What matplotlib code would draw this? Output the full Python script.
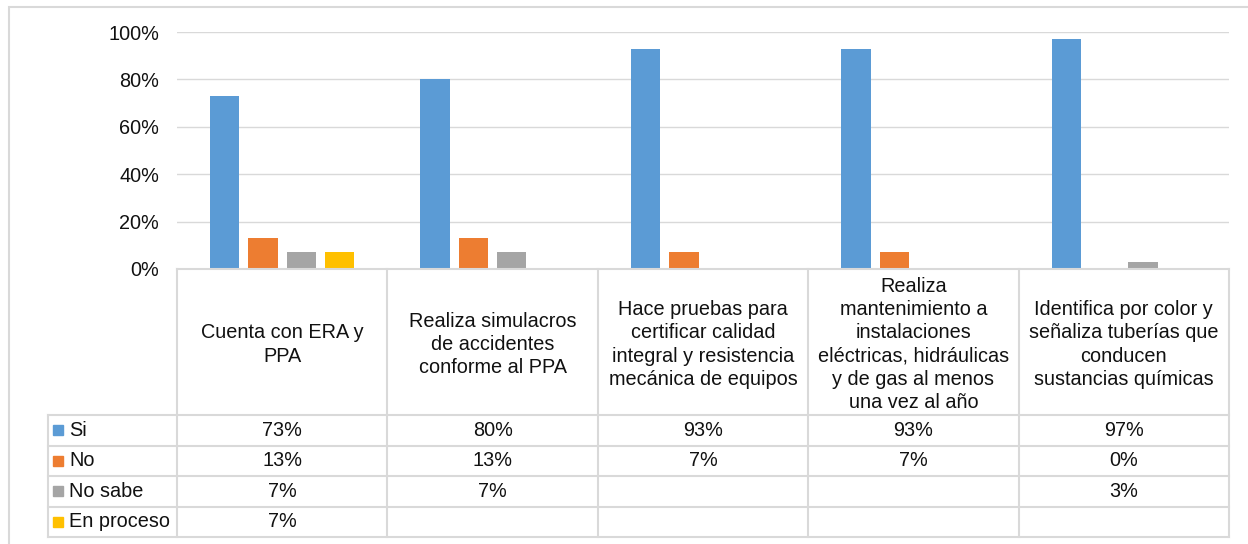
import numpy as np
import matplotlib
matplotlib.use("Agg")
import matplotlib.pyplot as plt
from matplotlib.patches import Rectangle

plt.rcParams['font.family'] = ['Liberation Sans', 'DejaVu Sans']

categories = [
    "Cuenta con ERA y\nPPA",
    "Realiza simulacros\nde accidentes\nconforme al PPA",
    "Hace pruebas para\ncertificar calidad\nintegral y resistencia\nmecánica de equipos",
    "Realiza\nmantenimiento a\ninstalaciones\neléctricas, hidráulicas\ny de gas al menos\nuna vez al año",
    "Identifica por color y\nseñaliza tuberías que\nconducen\nsustancias químicas",
]
series_names = ["Si", "No", "No sabe", "En proceso"]
si = [73, 80, 93, 93, 97]
no = [13, 13, 7, 7, 0]
no_sabe = [7, 7, None, None, 3]
en_proceso = [7, None, None, None, None]
series_values = [si, no, no_sabe, en_proceso]
colors = ["#5B9BD5", "#ED7D31", "#A5A5A5", "#FFC000"]
yticks = [0, 20, 40, 60, 80, 100]
ytick_labels = ["0%", "20%", "40%", "60%", "80%", "100%"]

W, H = 1248, 544
fig = plt.figure(figsize=(W / 100, H / 100), dpi=100)
fig.patch.set_facecolor("white")

grid_c = "#D9D9D9"
txt_c = "#111111"
fs = 14.3

# outer chart border
fig.add_artist(Rectangle((9 / W, -0.05), 1.1, (H - 7) / H + 0.05, transform=fig.transFigure,
                         fill=False, edgecolor=grid_c, lw=1.5))

# plot area
x0, x1 = 177, 1229
yt, yb = 32, 269
ax = fig.add_axes([x0 / W, (H - yb) / H, (x1 - x0) / W, (yb - yt) / H])
ax.set_xlim(0, len(categories))
ax.set_ylim(0, 100)
for s in ax.spines.values():
    s.set_visible(False)
ax.set_xticks([])
ax.set_yticks(yticks)
ax.set_yticklabels(ytick_labels, fontsize=fs, color=txt_c)
ax.tick_params(axis="y", length=0, pad=13)
ax.yaxis.grid(True, color=grid_c, lw=1.0)
ax.set_axisbelow(True)

n = len(series_names)
spacing = 0.182
bw = 0.14
xc = np.arange(len(categories)) + 0.5
for k, (vals, c) in enumerate(zip(series_values, colors)):
    v = np.array([np.nan if x is None else x for x in vals], dtype=float)
    ax.bar(xc + (k - (n - 1) / 2) * spacing, v, width=bw, color=c, zorder=3)

# data table
cw = (x1 - x0) / len(categories)
L = (x0 - 48) / cw
tb_top, tb_bot = 269, 537
tax = fig.add_axes([48 / W, (H - tb_bot) / H, (x1 - 48) / W, (tb_bot - tb_top) / H])
tax.set_xlim(-L, len(categories))
hdr = 415 - 269
rowh = (tb_bot - 415) / n
tax.set_ylim(tb_bot - tb_top, 0)
tax.axis("off")

lw = 1.5
# horizontal lines
tax.plot([0, len(categories)], [0, 0], color=grid_c, lw=lw, clip_on=False)
for r in range(n + 1):
    y = hdr + r * rowh
    tax.plot([-L, len(categories)], [y, y], color=grid_c, lw=lw, clip_on=False)
# vertical lines
for i in range(len(categories) + 1):
    tax.plot([i, i], [0, hdr + n * rowh], color=grid_c, lw=lw, clip_on=False)
tax.plot([-L, -L], [hdr, hdr + n * rowh], color=grid_c, lw=lw, clip_on=False)

for i, cat in enumerate(categories):
    tax.text(i + 0.5, hdr / 2 + 2.5, cat, ha="center", va="center", fontsize=fs,
             color=txt_c, linespacing=1.28)

for r, (name, vals, c) in enumerate(zip(series_names, series_values, colors)):
    yc = hdr + (r + 0.5) * rowh
    tax.plot([-L + 10 / cw], [yc], marker="s", ms=7.5, color=c, mec=c, clip_on=False)
    tax.text(-L + 21 / cw, yc, name, ha="left", va="center", fontsize=fs, color=txt_c)
    for i, v in enumerate(vals):
        if v is not None:
            tax.text(i + 0.5, yc, f"{v}%", ha="center", va="center", fontsize=fs, color=txt_c)

fig.savefig("out.png", dpi=100, facecolor="white")
